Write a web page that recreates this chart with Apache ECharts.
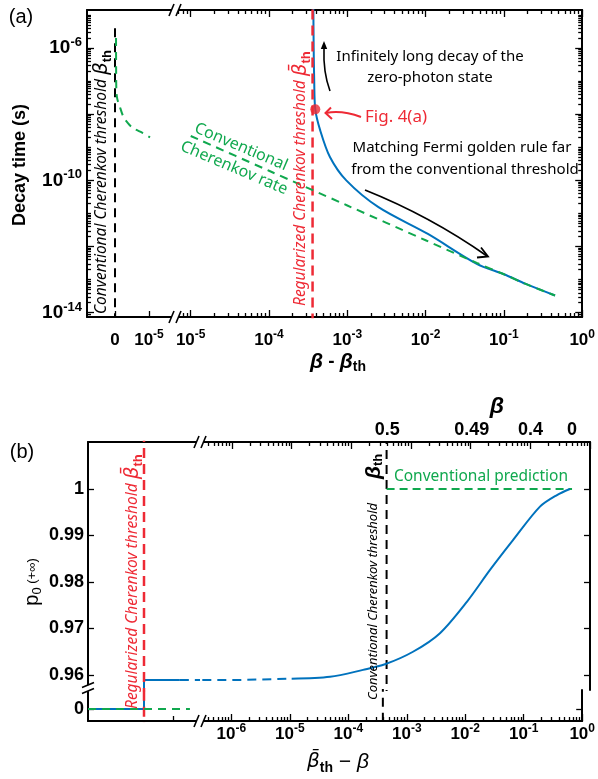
<!DOCTYPE html>
<html><head><meta charset="utf-8">
<script src="https://cdn.jsdelivr.net/npm/echarts@6/dist/echarts.min.js"></script>
<style>html,body{margin:0;padding:0;background:#fff}#c{width:598px;height:779px}</style>
</head><body><div id="c"></div>
<script>
// ================= DATA: panel (a) =================
const aXLeftLabels = [0, 1e-5];              // linear part of the x axis (before the break)
const aXDecades = [-5, -4, -3, -2, -1, 0];   // log part: 10^k
const aYLabelDecades = [-14, -10, -6];
const aYMajorDecades = [-14, -12, -10, -8, -6];
const aConvThreshold = 0;                    // beta - beta_th = 0
const aConvLineTop = 4e-6;
const aRegThreshold = 3.6e-4;                // regularized threshold (beta_bar_th - beta_th)
const aGreenLeftX = [3e-7, 3.3e-7, 4e-7, 7e-7, 1.26e-6, 2.44e-6, 3.8e-6, 5.3e-6, 8.2e-6, 1.03e-5];
const aGreenLeftY = [2e-6, 2.5e-7, 5e-8, 2.8e-8, 1.9e-8, 8.5e-9, 5.4e-9, 3.8e-9, 2.7e-9, 2.0e-9];
const aGreenRightX = [1e-5, 1e-4, 1e-3, 1e-2, 4.5e-2, 0.1, 0.19, 0.45];
const aGreenRightY = [2.2e-9, 1.95e-10, 1.74e-11, 1.55e-12, 3.2e-13, 1.45e-13, 7.4e-14, 3.3e-14];
const aBlueX = [3.68e-4, 3.72e-4, 3.78e-4, 3.9e-4, 4.5e-4, 6.0e-4, 9.7e-4, 2.5e-3, 1.07e-2, 4.5e-2, 0.1, 0.19, 0.45];
const aBlueY = [3e-5, 1e-6, 1e-7, 1.4e-8, 3.3e-9, 5.1e-10, 1.0e-10, 1.55e-11, 2.4e-12, 3.0e-13, 1.45e-13, 7.4e-14, 3.3e-14];
const aFigPoint = [3.9e-4, 1.4e-8];

// ================= DATA: panel (b) =================
const bYTicks = [0.96, 0.97, 0.98, 0.99, 1];
const bYLowerTicks = [0];
const bXDecades = [-6, -5, -4, -3, -2, -1, 0];
const betaBarTh = 0.5004;
const betaTicks = [0.5, 0.49, 0.4, 0];
const bConvThreshold = 3.9e-4;
const bRegThreshold = 0;          // centre of the left (unscaled) segment
const bBelowValue = 0;            // p0 below the regularized threshold
const bPlateau = 0.9589;
const bLeftSegX = [-1, 0, 0.64, 1];   // left edge, threshold, end of solid plateau, break
const bGreenLowerEnd = 0.82;
const bBlueDashX = [1e-7, 1e-6, 1e-5];
const bBlueDashY = [0.9589, 0.9589, 0.9592];
const bBlueX = [1e-5, 4.4e-5, 1.57e-4, 3.66e-4, 1.08e-3, 3.06e-3, 8.7e-3, 2.11e-2, 5.12e-2, 0.145, 0.28, 0.46];
const bBlueY = [0.9592, 0.9596, 0.9611, 0.9623, 0.9650, 0.9690, 0.9758, 0.9826, 0.9890, 0.9962, 0.9987, 1.0];
const bConvPredX = [3.9e-4, 0.5];
const bConvPredY = 1;

// ================= STYLE =================
const F = '"Liberation Sans", Arial, Helvetica, sans-serif';
const TF = '"Noto Sans", "Open Sans", sans-serif';
const DJ = '"DejaVu Sans", sans-serif';
const BLUE = '#0072bd', GREEN = '#10a84e', RED = '#ee2a35';
const L = Math.log10;
const zip = (xs, ys, fx, fy) => xs.map((x, i) => [fx ? fx(x) : x, fy ? fy(ys[i]) : ys[i]]);

function minors(k0, k1, lo, hi, skip) {
  const out = [];
  for (let k = k0; k <= k1; k++) for (let m = 1; m <= 9; m++) {
    const v = k + L(m);
    if (m === 1 && skip && skip.indexOf(k) >= 0) continue;
    if (v > lo + 1e-9 && v < hi - 1e-9) out.push(v);
  }
  return out;
}

const RICH = {
  b: {fontFamily: F, fontWeight: 'bold', fontSize: 17, lineHeight: 22, color: '#000'},
  s: {fontFamily: F, fontWeight: 'bold', fontSize: 12, lineHeight: 12, verticalAlign: 'top', color: '#000'},
  B: {fontFamily: F, fontWeight: 'bold', fontSize: 19, lineHeight: 24, color: '#000'},
  S: {fontFamily: F, fontWeight: 'bold', fontSize: 13, lineHeight: 13, verticalAlign: 'top', color: '#000'}
};

function mkAxis(p) {
  return {
    type: 'value', gridIndex: p.grid, position: p.pos, min: p.min, max: p.max,
    axisLine: {show: !!p.line, onZero: false, lineStyle: {color: '#000', width: 2}},
    axisTick: p.ticks ? {show: true, inside: true, length: p.tickLen || 6, customValues: p.ticks,
      lineStyle: {color: '#000', width: 1.3}} : {show: false},
    axisLabel: p.labels ? {show: true, customValues: p.labels, formatter: p.fmt, margin: p.margin,
      rich: RICH, color: '#000', fontFamily: F, fontWeight: 'bold', fontSize: p.fs || 18} : {show: false},
    splitLine: {show: false}, splitArea: {show: false}, silent: true
  };
}

// axis ranges
const aXLmin = -0.824e-5, aXLmax = 1.824e-5;
const aXRmin = -5.175, aXRmax = 0;
const aYmin = -14.13, aYmax = -4.85;
const bXLmin = -1, bXLmax = 1;
const bXRmin = -6.536, bXRmax = 0;
const bYUmin = 0.956774, bYUmax = 1.010108;
const bYLmin = -0.00258, bYLmax = 0.00409;

const decFmtSmall = v => '{b|10}{s|' + Math.round(v) + '}';
const decFmtBig = v => '{B|10}{S|' + Math.round(v) + '}';

const xAxis = [
  mkAxis({grid: 0, pos: 'bottom', min: aXLmin, max: aXLmax, line: true, ticks: aXLeftLabels, tickLen: 6,
    labels: aXLeftLabels, margin: 12, fmt: v => Math.abs(v) < 1e-12 ? '{b|0}' : decFmtSmall(L(v))}),
  mkAxis({grid: 0, pos: 'top', min: aXLmin, max: aXLmax, line: true}),
  mkAxis({grid: 1, pos: 'bottom', min: aXRmin, max: aXRmax, line: true, ticks: aXDecades, tickLen: 7,
    labels: aXDecades, margin: 12, fmt: decFmtSmall}),
  mkAxis({grid: 1, pos: 'bottom', min: aXRmin, max: aXRmax, ticks: minors(-6, 0, aXRmin, aXRmax, aXDecades), tickLen: 4}),
  mkAxis({grid: 1, pos: 'top', min: aXRmin, max: aXRmax, line: true, ticks: aXDecades, tickLen: 7}),
  mkAxis({grid: 1, pos: 'top', min: aXRmin, max: aXRmax, ticks: minors(-6, 0, aXRmin, aXRmax, aXDecades), tickLen: 4}),
  mkAxis({grid: 2, pos: 'top', min: bXLmin, max: bXLmax, line: true}),
  mkAxis({grid: 3, pos: 'bottom', min: bXLmin, max: bXLmax, line: true, ticks: [0.52], tickLen: 5}),
  mkAxis({grid: 4, pos: 'top', min: bXRmin, max: bXRmax, line: true, ticks: bXDecades, tickLen: 7,
    labels: betaTicks.map(b => L(betaBarTh - b)), margin: 3, fs: 18,
    fmt: v => String(Math.abs(parseFloat((betaBarTh - Math.pow(10, v)).toFixed(2))))}),
  mkAxis({grid: 4, pos: 'top', min: bXRmin, max: bXRmax, ticks: minors(-7, 0, bXRmin, bXRmax, bXDecades), tickLen: 4}),
  mkAxis({grid: 5, pos: 'bottom', min: bXRmin, max: bXRmax, line: true, ticks: bXDecades, tickLen: 7,
    labels: bXDecades, margin: 2, fmt: decFmtSmall}),
  mkAxis({grid: 5, pos: 'bottom', min: bXRmin, max: bXRmax, ticks: minors(-7, 0, bXRmin, bXRmax, bXDecades), tickLen: 4})
];

const aYMinor = minors(-15, -4, aYmin, aYmax, aYMajorDecades);
const yAxis = [
  mkAxis({grid: 0, pos: 'left', min: aYmin, max: aYmax, line: true, ticks: aYMajorDecades, tickLen: 7,
    labels: aYLabelDecades, margin: 5, fmt: decFmtBig}),
  mkAxis({grid: 0, pos: 'left', min: aYmin, max: aYmax, ticks: aYMinor, tickLen: 4}),
  mkAxis({grid: 1, pos: 'right', min: aYmin, max: aYmax, line: true, ticks: aYMajorDecades, tickLen: 7}),
  mkAxis({grid: 1, pos: 'right', min: aYmin, max: aYmax, ticks: aYMinor, tickLen: 4}),
  mkAxis({grid: 2, pos: 'left', min: bYUmin, max: bYUmax, line: true, ticks: bYTicks, tickLen: 6,
    labels: bYTicks, margin: 4, fs: 18, fmt: v => String(parseFloat(v.toFixed(2)))}),
  mkAxis({grid: 3, pos: 'left', min: bYLmin, max: bYLmax, line: true, ticks: bYLowerTicks, tickLen: 6,
    labels: bYLowerTicks, margin: 4, fs: 18, fmt: v => '0'}),
  mkAxis({grid: 4, pos: 'right', min: bYUmin, max: bYUmax, line: true, ticks: bYTicks, tickLen: 6}),
  mkAxis({grid: 5, pos: 'right', min: bYLmin, max: bYLmax, line: true, ticks: bYLowerTicks, tickLen: 6})
];

function line(xi, yi, data, color, width, dash, extra) {
  return Object.assign({
    type: 'line', xAxisIndex: xi, yAxisIndex: yi, data: data, showSymbol: false, symbol: 'none',
    silent: true, clip: true, lineStyle: {color: color, width: width, type: dash || 'solid'}, z: 3
  }, extra || {});
}

const series = [
  line(0, 0, [[aConvThreshold, L(aConvLineTop)], [aConvThreshold, -20]], '#000', 2, [9, 6]),
  line(0, 0, zip(aGreenLeftX, aGreenLeftY, null, L), GREEN, 2, [8, 6], {smooth: 0.3, z: 4}),
  line(2, 2, zip(aBlueX, aBlueY, L, L), BLUE, 2, 'solid', {smooth: 0.3}),
  line(2, 2, [[L(aRegThreshold), 0], [L(aRegThreshold), -20]], RED, 2.5, [10, 6], {z: 4}),
  line(2, 2, zip(aGreenRightX, aGreenRightY, L, L), GREEN, 2, [8, 6], {smooth: 0.3, z: 5}),
  {type: 'scatter', xAxisIndex: 2, yAxisIndex: 2, data: [[L(aFigPoint[0]), L(aFigPoint[1])]],
    symbolSize: 10, itemStyle: {color: RED}, z: 6, silent: true},
  line(6, 4, [[bRegThreshold, 0.9], [bRegThreshold, 1.1]], RED, 2.5, [10, 6], {z: 4}),
  line(6, 4, [[bLeftSegX[1], 0.9], [bLeftSegX[1], bPlateau], [bLeftSegX[2], bPlateau]], BLUE, 2),
  line(6, 4, [[bLeftSegX[2], bPlateau], [bLeftSegX[3], bPlateau]], BLUE, 2, [9, 6]),
  line(7, 5, [[bRegThreshold, -1], [bRegThreshold, 1]], RED, 2.5, [10, 6], {z: 4}),
  line(7, 5, [[bLeftSegX[0], bBelowValue], [bLeftSegX[1], bBelowValue], [bLeftSegX[1], 1]], BLUE, 2),
  line(7, 5, [[bLeftSegX[0], bBelowValue], [bGreenLowerEnd, bBelowValue]], GREEN, 2, [8, 6], {z: 5}),
  line(8, 6, [[L(bConvThreshold), 0.9], [L(bConvThreshold), 1.1]], '#000', 2, [9, 6]),
  line(8, 6, bConvPredX.map(x => [L(x), bConvPredY]), GREEN, 2, [8, 5], {z: 4}),
  line(8, 6, zip(bBlueDashX, bBlueDashY, L), BLUE, 2, [9, 6]),
  line(8, 6, zip(bBlueX, bBlueY, L), BLUE, 2, 'solid', {smooth: 0.3, z: 5}),
  line(10, 7, [[L(bConvThreshold), -1], [L(bConvThreshold), 1]], '#000', 2, [9, 6])
];

function T(x, y, text, style, rot) {
  return {type: 'text', x: x, y: y, rotation: rot || 0, z: 50, silent: true,
    style: Object.assign({text: text, fill: '#000', fontFamily: TF, fontSize: 15,
      textAlign: 'center', textVerticalAlign: 'middle'}, style || {})};
}
function hBreak(cx, cy) {
  return [
    {type: 'polygon', z: 100, silent: true, shape: {points: [[cx - 5.2, cy + 4], [cx - 1.8, cy - 4], [cx + 5.2, cy - 4], [cx + 1.8, cy + 4]]}, style: {fill: '#fff'}},
    {type: 'line', z: 101, silent: true, shape: {x1: cx - 6, y1: cy + 6, x2: cx - 1, y2: cy - 6}, style: {stroke: '#000', lineWidth: 1.6}},
    {type: 'line', z: 101, silent: true, shape: {x1: cx + 1, y1: cy + 6, x2: cx + 6, y2: cy - 6}, style: {stroke: '#000', lineWidth: 1.6}}
  ];
}
function vBreak(cx, cy) {
  return [
    {type: 'polygon', z: 100, silent: true, shape: {points: [[cx - 4, cy - 1], [cx + 4, cy - 4.3], [cx + 4, cy + 1.7], [cx - 4, cy + 5]]}, style: {fill: '#fff'}},
    {type: 'line', z: 101, silent: true, shape: {x1: cx - 6, y1: cy - 0.5, x2: cx + 6, y2: cy - 5.5}, style: {stroke: '#000', lineWidth: 1.6}},
    {type: 'line', z: 101, silent: true, shape: {x1: cx - 6, y1: cy + 5.5, x2: cx + 6, y2: cy + 0.5}, style: {stroke: '#000', lineWidth: 1.6}}
  ];
}
const R90 = Math.PI / 2;
const richRot = (color, size) => ({
  i: {fontFamily: TF, fontStyle: 'italic', fontSize: size, fill: color, lineHeight: 22},
  g: {fontFamily: DJ, fontStyle: 'italic', fontSize: 20, fill: color, lineHeight: 24},
  t: {fontFamily: F, fontWeight: 'bold', fontSize: 13, fill: color, verticalAlign: 'bottom', lineHeight: 13}
});

const graphic = [].concat(
  hBreak(175, 10), hBreak(175, 317), hBreak(200, 442), hBreak(200, 721), vBreak(88, 688),
  [
    T(21, 17, '(a)', {fontFamily: F, fontSize: 20}),
    T(22, 452, '(b)', {fontFamily: F, fontSize: 20}),
    T(20, 165, 'Decay time (s)', {fontFamily: F, fontWeight: 'bold', fontSize: 18}, R90),
    T(338, 362, '{g|β}{m| - }{g|β}{t|th}', {rich: {
      g: {fontFamily: F, fontStyle: 'italic', fontWeight: 'bold', fontSize: 21, lineHeight: 24, fill: '#000'},
      m: {fontFamily: F, fontWeight: 'bold', fontSize: 19, lineHeight: 24, fill: '#000'},
      t: {fontFamily: F, fontWeight: 'bold', fontSize: 14, lineHeight: 14, verticalAlign: 'bottom', fill: '#000'}}}),
    T(32, 582, '{p|p}{z|0}{q| (+∞)}', {rich: {
      p: {fontFamily: F, fontSize: 20, lineHeight: 24, fill: '#000'},
      z: {fontFamily: F, fontSize: 13, lineHeight: 13, verticalAlign: 'bottom', fill: '#000'},
      q: {fontFamily: F, fontSize: 13, lineHeight: 24, fill: '#000'}}}, R90),
    T(338, 762, '{g|β\u0304}{t|th}{h| − β}', {rich: {
      g: {fontFamily: DJ, fontStyle: 'italic', fontSize: 20, lineHeight: 26, fill: '#000'},
      h: {fontFamily: F, fontStyle: 'italic', fontSize: 21, lineHeight: 26, fill: '#000'},
      t: {fontFamily: F, fontWeight: 'bold', fontSize: 14, lineHeight: 14, verticalAlign: 'bottom', fill: '#000'}}}),
    T(497, 407, 'β', {fontFamily: F, fontStyle: 'italic', fontWeight: 'bold', fontSize: 23}),
    T(102, 314, '{i|Conventional Cherenkov threshold }{g|β}{t|th}', {textAlign: 'left', rich: richRot('#000', 15.5)}, R90),
    T(301, 306, '{i|Regularized Cherenkov threshold }{g|β\u0304}{t|th}', {textAlign: 'left', rich: richRot(RED, 15.5)}, R90),
    T(133, 709, '{i|Regularized Cherenkov threshold }{g|β\u0304}{t|th}', {textAlign: 'left', rich: richRot(RED, 15.5)}, R90),
    T(373, 700, 'Conventional Cherenkov threshold', {textAlign: 'left', fontStyle: 'italic', fontSize: 13}, R90),
    T(374, 479, '{g|β}{t|th}', {textAlign: 'left', rich: {
      g: {fontFamily: F, fontStyle: 'italic', fontWeight: 'bold', fontSize: 21, lineHeight: 22, fill: '#000'},
      t: {fontFamily: F, fontWeight: 'bold', fontSize: 13, lineHeight: 13, verticalAlign: 'bottom', fill: '#000'}}}, R90),
    T(430, 57, 'Infinitely long decay of the'),
    T(430, 78, 'zero-photon state'),
    T(365, 117, 'Fig. 4(a)', {fill: RED, fontSize: 17, textAlign: 'left'}),
    T(462, 148, 'Matching Fermi golden rule far'),
    T(465, 170, 'from the conventional threshold'),
    T(241, 147, 'Conventional', {fill: GREEN, fontSize: 16}, -0.40),
    T(234, 168, 'Cherenkov rate', {fill: GREEN, fontSize: 16}, -0.40),
    T(481, 477, 'Conventional prediction', {fill: GREEN, fontSize: 15.5}),
    {type: 'bezierCurve', z: 50, silent: true, shape: {x1: 330, y1: 91, x2: 324, y2: 48, cpx1: 323, cpy1: 72},
      style: {stroke: '#000', lineWidth: 1.6, fill: null}},
    {type: 'polygon', z: 50, silent: true, shape: {points: [[324, 41], [320.8, 49], [327.2, 49]]}, style: {fill: '#000'}},
    {type: 'bezierCurve', z: 50, silent: true, shape: {x1: 365, y1: 190, x2: 487, y2: 256, cpx1: 430, cpy1: 216},
      style: {stroke: '#000', lineWidth: 1.8, fill: null}},
    {type: 'polyline', z: 50, silent: true, shape: {points: [[481, 247.5], [488, 256.5], [477, 257.5]]},
      style: {stroke: '#000', lineWidth: 1.8, fill: null}},
    {type: 'bezierCurve', z: 50, silent: true, shape: {x1: 361, y1: 117, x2: 326, y2: 113, cpx1: 342, cpy1: 110},
      style: {stroke: RED, lineWidth: 2, fill: null}},
    {type: 'polyline', z: 50, silent: true, shape: {points: [[331, 107.5], [325.5, 113], [332, 119]]},
      style: {stroke: RED, lineWidth: 2, fill: null}}
  ]
);

const chart = echarts.init(document.getElementById('c'), null, {renderer: 'canvas'});
chart.setOption({
  animation: false,
  backgroundColor: '#fff',
  grid: [
    {left: 87, top: 10, width: 90, height: 307},
    {left: 177, top: 10, width: 414, height: 307},
    {left: 88, top: 442, width: 112, height: 248},
    {left: 88, top: 690, width: 112, height: 31},
    {left: 200, top: 442, width: 390, height: 248},
    {left: 200, top: 690, width: 390, height: 31}
  ],
  xAxis: xAxis,
  yAxis: yAxis,
  series: series,
  graphic: graphic
});
</script></body></html>
